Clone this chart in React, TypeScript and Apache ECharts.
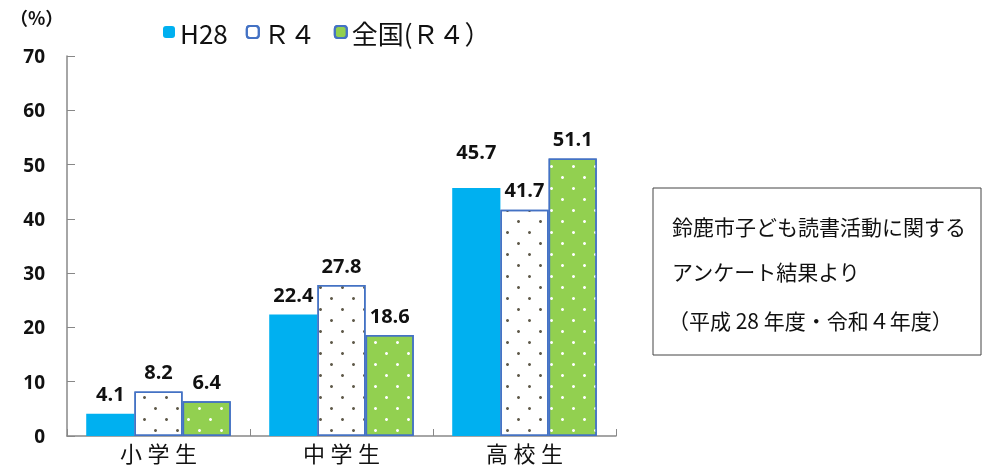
import React, { useEffect, useRef } from "react";
import * as echarts from "echarts";

const categories = ["小学生", "中学生", "高校生"];
const seriesNames = ["H28", "Ｒ４", "全国(Ｒ４）"];
const h28 = [4.1, 22.4, 45.7];
const r4 = [8.2, 27.8, 41.7];
const national = [6.4, 18.6, 51.1];
const yTicks = [0, 10, 20, 30, 40, 50, 60, 70];
const noteLines = [
  "鈴鹿市子ども読書活動に関する",
  "アンケート結果より",
  "（平成 28 年度・令和４年度）",
];

const labelStyle = {
  show: true,
  position: "top" as const,
  distance: 10,
  fontSize: 20,
  fontWeight: "bold" as const,
  color: "#111",
  fontFamily: "'Open Sans', 'Noto Sans', sans-serif",
};

export default function App() {
  const ref = useRef<HTMLDivElement>(null);
  useEffect(() => {
    if (!ref.current) return;
    const chart = echarts.init(ref.current, null, { renderer: "svg" });
    const font = "'Noto Sans CJK JP', sans-serif";
    const mk = (vals: number[], lifts: number[]) =>
      vals.map((v, i) => ({
        value: v,
        label: lifts[i] ? { distance: 10 + lifts[i] } : undefined,
      }));
    chart.setOption({
      animation: false,
      grid: { left: 67, right: 368, top: 56, bottom: 32 },
      legend: {
        left: 158,
        top: 14,
        itemWidth: 12,
        itemHeight: 12,
        itemGap: 18,
        textStyle: { fontSize: 26, color: "#111", fontFamily: font },
        data: seriesNames,
      },
      xAxis: {
        type: "category",
        data: categories,
        axisLine: { lineStyle: { color: "#888", width: 1.5 } },
        axisTick: { show: true, inside: true, length: 7, lineStyle: { color: "#888" } },
        axisLabel: {
          fontSize: 22,
          color: "#111",
          fontFamily: font,
          margin: 5,
          formatter: (v: string) => v.split("").join("\u2005"),
        },
      },
      yAxis: {
        type: "value",
        min: yTicks[0],
        max: yTicks[yTicks.length - 1],
        interval: 10,
        splitLine: { show: false },
        axisLine: { show: true, lineStyle: { color: "#888", width: 1.5 } },
        axisTick: { show: true, inside: true, length: 8, lineStyle: { color: "#888" } },
        axisLabel: {
          fontSize: 19,
          fontWeight: "bold",
          color: "#111",
          margin: 22,
          fontFamily: "'Open Sans', 'Noto Sans', sans-serif",
        },
      },
      series: [
        {
          name: seriesNames[0],
          type: "bar",
          data: mk(h28, [0, 0, 16]),
          barGap: "0%",
          barCategoryGap: "21%",
          itemStyle: { color: "#00B0F0" },
          label: labelStyle,
        },
        {
          name: seriesNames[1],
          type: "bar",
          data: mk(r4, [0, 0, 0]),
          itemStyle: {
            color: "#ffffff",
            borderColor: "#4472C4",
            borderWidth: 1.5,
            decal: {
              symbol: "circle",
              symbolSize: 1,
              color: "#5f5a4a",
              dashArrayX: [[3, 19], [0, 11, 3, 8]],
              dashArrayY: [3, 8],
              rotation: 0,
            },
          },
          label: labelStyle,
        },
        {
          name: seriesNames[2],
          type: "bar",
          data: mk(national, [0, 0, 0]),
          itemStyle: {
            color: "#92D050",
            borderColor: "#4472C4",
            borderWidth: 1.5,
            decal: {
              symbol: "circle",
              symbolSize: 1,
              color: "#ffffff",
              dashArrayX: [[3, 19], [0, 11, 3, 8]],
              dashArrayY: [3, 8],
              rotation: 0,
            },
          },
          label: labelStyle,
        },
      ],
      graphic: [
        {
          type: "text",
          left: 10,
          top: 8,
          style: {
            text: "（%）",
            fontSize: 18,
            fontWeight: "bold",
            fill: "#111",
            fontFamily: font,
          },
        },
        {
          type: "rect",
          shape: { x: 653, y: 188, width: 328, height: 167 },
          style: { fill: "#fff", stroke: "#444", lineWidth: 1 },
        },
        ...noteLines.map((t, i) => ({
          type: "text",
          x: i === 2 ? 668 : 672,
          y: [226, 271, 320][i],
          style: {
            text: t,
            fontSize: 21,
            fill: "#111",
            fontFamily: font,
            textVerticalAlign: "middle",
          },
        })),
      ],
    });
    return () => chart.dispose();
  }, []);
  return (
    <div
      ref={ref}
      style={{ width: 984, height: 468, position: "fixed", left: 0, top: 0 }}
    />
  );
}
